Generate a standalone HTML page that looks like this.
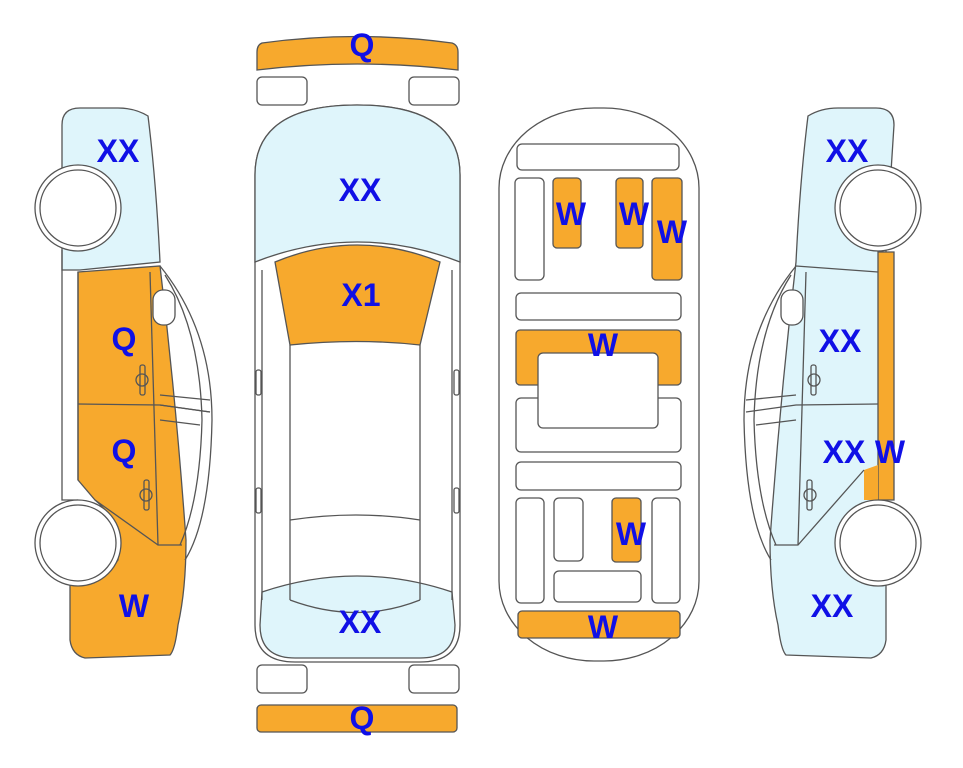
<!DOCTYPE html>
<html><head><meta charset="utf-8"><style>
html,body{margin:0;padding:0;background:#fff;}
svg{display:block}
text{font-family:"Liberation Sans",Arial,sans-serif;font-weight:bold;font-size:32px;fill:#1010e6;text-anchor:middle}
</style></head><body>
<svg width="963" height="768" viewBox="0 0 963 768" xmlns="http://www.w3.org/2000/svg">
<g stroke="#555" stroke-width="1.3" fill="none">

<!-- LEFT CAR -->
<g id="side">
<path d="M62,125 Q62,108 80,108 L118,108 Q135,108 148,116 Q156,180 160,262 L80,270 L62,270 Z" fill="#dff5fb"/>
<path d="M78,272 L160,266 Q176,400 186,540 Q186,590 178,625 Q175,650 170,655 L85,658 Q72,655 70,640 L70,585 Q100,585 118,560 Q120,520 95,500 L78,480 Z" fill="#f7a92d"/>
<path d="M160,266 Q212,330 212,420 Q210,520 185,560"/>
<path d="M165,275 Q200,330 202,420 Q200,500 180,545"/>
<path d="M62,250 L62,500 L78,500"/>
<path d="M78,272 L78,480"/>
<path d="M78,404 L160,405 L210,412"/>
<path d="M160,395 L210,400"/>
<path d="M160,405 L210,412 M160,420 L200,425"/>
<path d="M150,272 L158,545"/>
<path d="M95,500 L158,545 L182,545"/>
<rect x="153" y="290" width="22" height="35" rx="10" fill="#fff"/>
<rect x="140" y="365" width="5" height="30" rx="2"/>
<circle cx="142" cy="380" r="6"/>
<rect x="144" y="480" width="5" height="30" rx="2"/>
<circle cx="146" cy="495" r="6"/>
<circle cx="78" cy="208" r="43" fill="#fff"/>
<circle cx="78" cy="208" r="38" fill="#fff"/>
<circle cx="78" cy="543" r="43" fill="#fff"/>
<circle cx="78" cy="543" r="38" fill="#fff"/>
</g>

<!-- RIGHT CAR (mirror) -->
<g transform="translate(956,0) scale(-1,1)">
<path d="M62,125 Q62,108 80,108 L118,108 Q135,108 148,116 Q156,180 160,262 Q176,400 186,540 Q186,590 178,625 Q175,650 170,655 L85,658 Q72,655 70,640 L70,250 Z" fill="#dff5fb"/>
<path d="M62,252 L78,252 L78,500 L62,500 Z" fill="#f7a92d"/>
<path d="M78,465 L92,470 L92,500 L78,500 Z" fill="#f7a92d" stroke="none"/>
<path d="M160,266 Q212,330 212,420 Q210,520 185,560"/>
<path d="M165,275 Q200,330 202,420 Q200,500 180,545"/>
<path d="M78,272 L160,266"/>
<path d="M78,404 L160,405 L210,412"/>
<path d="M160,395 L210,400 M160,420 L200,425"/>
<path d="M150,272 L158,545"/>
<path d="M92,470 L158,545 L182,545"/>
<rect x="153" y="290" width="22" height="35" rx="10" fill="#fff"/>
<rect x="140" y="365" width="5" height="30" rx="2"/>
<circle cx="142" cy="380" r="6"/>
<rect x="144" y="480" width="5" height="30" rx="2"/>
<circle cx="146" cy="495" r="6"/>
<circle cx="78" cy="208" r="43" fill="#fff"/>
<circle cx="78" cy="208" r="38" fill="#fff"/>
<circle cx="78" cy="543" r="43" fill="#fff"/>
<circle cx="78" cy="543" r="38" fill="#fff"/>
</g>

<!-- CENTER CAR -->
<path d="M262,43 Q357,30 452,43 Q458,45 458,52 L458,70 Q357,58 257,70 L257,52 Q257,45 262,43 Z" fill="#f7a92d"/>
<rect x="257" y="77" width="50" height="28" rx="5"/>
<rect x="409" y="77" width="50" height="28" rx="5"/>
<path d="M255,175 Q255,105 357,105 Q460,105 460,175 L460,625 Q460,662 420,662 L295,662 Q255,662 255,625 Z" fill="#fff"/>
<path d="M255,262 L255,175 Q255,105 357,105 Q460,105 460,175 L460,262 Q357,222 255,262 Z" fill="#dff5fb"/>
<path d="M275,262 Q357,228 440,262 L420,345 Q357,338 290,345 Z" fill="#f7a92d"/>
<path d="M262,592 Q357,560 452,592 L455,625 Q455,658 420,658 L295,658 Q260,658 260,625 Z" fill="#dff5fb"/>
<path d="M290,345 L290,600 M420,345 L420,600"/>
<path d="M262,270 L262,600 M452,270 L452,600"/>
<path d="M290,520 Q357,510 420,520"/>
<path d="M290,600 Q357,625 420,600"/>
<rect x="256" y="370" width="5" height="25" rx="2"/>
<rect x="454" y="370" width="5" height="25" rx="2"/>
<rect x="256" y="488" width="5" height="25" rx="2"/>
<rect x="454" y="488" width="5" height="25" rx="2"/>
<rect x="257" y="665" width="50" height="28" rx="5"/>
<rect x="409" y="665" width="50" height="28" rx="5"/>
<rect x="257" y="705" width="200" height="27" rx="4" fill="#f7a92d"/>

<!-- UNDERBODY -->
<rect x="499" y="108" width="200" height="553" rx="95" ry="80" fill="#fff"/>
<rect x="517" y="144" width="162" height="26" rx="5"/>
<rect x="515" y="178" width="29" height="102" rx="5"/>
<rect x="553" y="178" width="28" height="70" rx="4" fill="#f7a92d"/>
<rect x="616" y="178" width="27" height="70" rx="4" fill="#f7a92d"/>
<rect x="652" y="178" width="30" height="102" rx="4" fill="#f7a92d"/>
<rect x="516" y="293" width="165" height="27" rx="5"/>
<rect x="516" y="398" width="165" height="54" rx="5"/>
<rect x="516" y="330" width="165" height="55" rx="4" fill="#f7a92d"/>
<rect x="538" y="353" width="120" height="75" rx="5" fill="#fff"/>
<rect x="516" y="462" width="165" height="28" rx="5"/>
<rect x="516" y="498" width="28" height="105" rx="5"/>
<rect x="554" y="498" width="29" height="63" rx="5"/>
<rect x="612" y="498" width="29" height="64" rx="4" fill="#f7a92d"/>
<rect x="652" y="498" width="28" height="105" rx="5"/>
<rect x="554" y="571" width="87" height="31" rx="5"/>
<rect x="518" y="611" width="162" height="27" rx="4" fill="#f7a92d"/>
</g>

<text x="118" y="162">XX</text>
<text x="124" y="350">Q</text>
<text x="124" y="462">Q</text>
<text x="134" y="617">W</text>
<text x="362" y="56">Q</text>
<text x="360" y="201">XX</text>
<text x="361" y="306">X1</text>
<text x="360" y="633">XX</text>
<text x="362" y="729">Q</text>
<text x="571" y="225">W</text>
<text x="634" y="225">W</text>
<text x="672" y="243">W</text>
<text x="603" y="356">W</text>
<text x="631" y="545">W</text>
<text x="603" y="638">W</text>
<text x="847" y="162">XX</text>
<text x="840" y="352">XX</text>
<text x="844" y="463">XX</text>
<text x="890" y="463">W</text>
<text x="832" y="617">XX</text>
</svg>
</body></html>
